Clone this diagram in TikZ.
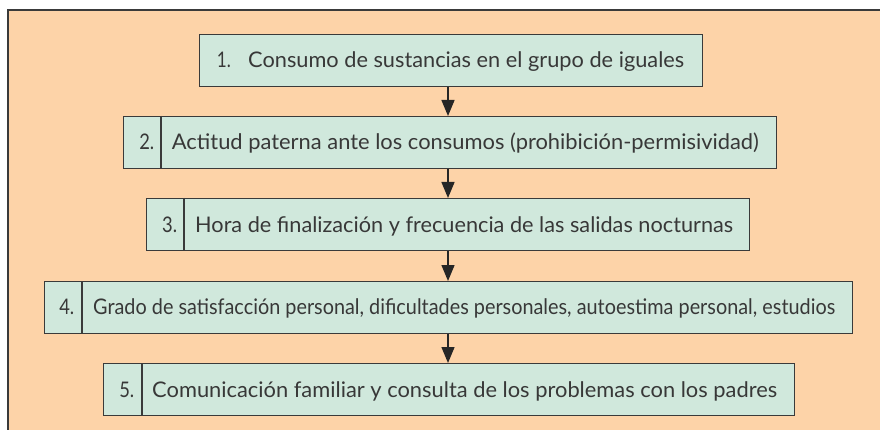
\documentclass[tikz,border=0pt]{standalone}
\usepackage{fontspec}
\setmainfont{Lato}
\usepackage{graphicx}
\usetikzlibrary{arrows.meta}
\definecolor{peach}{HTML}{FDD3A8}
\definecolor{mint}{HTML}{D0E8DC}
\definecolor{edge}{HTML}{3A3A3A}
\definecolor{ink}{HTML}{383838}
\newcommand{\fitw}[2]{\resizebox{#1}{\height}{#2}}
\tikzset{
  box/.style={draw=edge, line width=1.2pt, fill=mint, inner sep=0pt, anchor=north west, minimum height=52pt},
  lbl/.style={inner sep=0pt, text=ink, font=\fontsize{21.5}{25}\selectfont},
  divider/.style={draw=edge, line width=1.2pt},
  arr/.style={draw=black!85, line width=1.4pt, -{Triangle[width=13pt,length=16pt]}},
}
\begin{document}
\begin{tikzpicture}[x=1pt,y=-1pt]
\useasboundingbox (0,0) rectangle (880,430);
\fill[white] (0,0) rectangle (880,430);
\fill[peach] (8,10) rectangle (880,430);
\draw[edge, line width=2pt] (8,430) -- (8,10) -- (880,10);
% boxes
\node[box, minimum width=503pt] (b1) at (199,34) {};
\node[box, minimum width=653pt] (b2) at (123,116) {};
\node[box, minimum width=603pt] (b3) at (146,198) {};
\node[box, minimum width=808pt] (b4) at (44,281) {};
\node[box, minimum width=691pt] (b5) at (103,363) {};
% dividers
\draw[divider] ([xshift=38pt]b2.north west) -- ([xshift=38pt]b2.south west);
\draw[divider] ([xshift=38pt]b3.north west) -- ([xshift=38pt]b3.south west);
\draw[divider] ([xshift=38pt]b4.north west) -- ([xshift=38pt]b4.south west);
\draw[divider] ([xshift=39pt]b5.north west) -- ([xshift=39pt]b5.south west);
% numbers
\node[lbl, anchor=base west] (n1) at (216.7,67.8) {\fitw{14pt}{1.}};
\node[lbl, anchor=base east] (n2) at (154.5,149.3) {\fitw{15pt}{2.}};
\node[lbl, anchor=base east] (n3) at (177.3,232.1) {\fitw{15pt}{3.}};
\node[lbl, anchor=base east] (n4) at (74.5,314.8) {\fitw{15pt}{4.}};
\node[lbl, anchor=base east] (n5) at (134.5,397.1) {\fitw{15pt}{5.}};
% texts
\node[lbl, anchor=base west] (t1) at (248,67.8) {\fitw{436pt}{Consumo de sustancias en el grupo de iguales}};
\node[lbl, anchor=base west] (t2) at (171.7,149.3) {\fitw{587pt}{Actitud paterna ante los consumos (prohibición-permisividad)}};
\node[lbl, anchor=base west] (t3) at (195,232.1) {\fitw{538pt}{Hora de finalización y frecuencia de las salidas nocturnas}};
\node[lbl, anchor=base west] (t4) at (93,314.8) {\fitw{742pt}{Grado de satisfacción personal, dificultades personales, autoestima personal, estudios}};
\node[lbl, anchor=base west] (t5) at (152,397.1) {\fitw{625pt}{Comunicación familiar y consulta de los problemas con los padres}};
% arrows
\coordinate (ax) at (448,0);
\draw[arr] (b1.south -| ax) -- (b2.north -| ax);
\draw[arr] (b2.south -| ax) -- (b3.north -| ax);
\draw[arr] (b3.south -| ax) -- (b4.north -| ax);
\draw[arr] (b4.south -| ax) -- (b5.north -| ax);
\end{tikzpicture}
\end{document}
